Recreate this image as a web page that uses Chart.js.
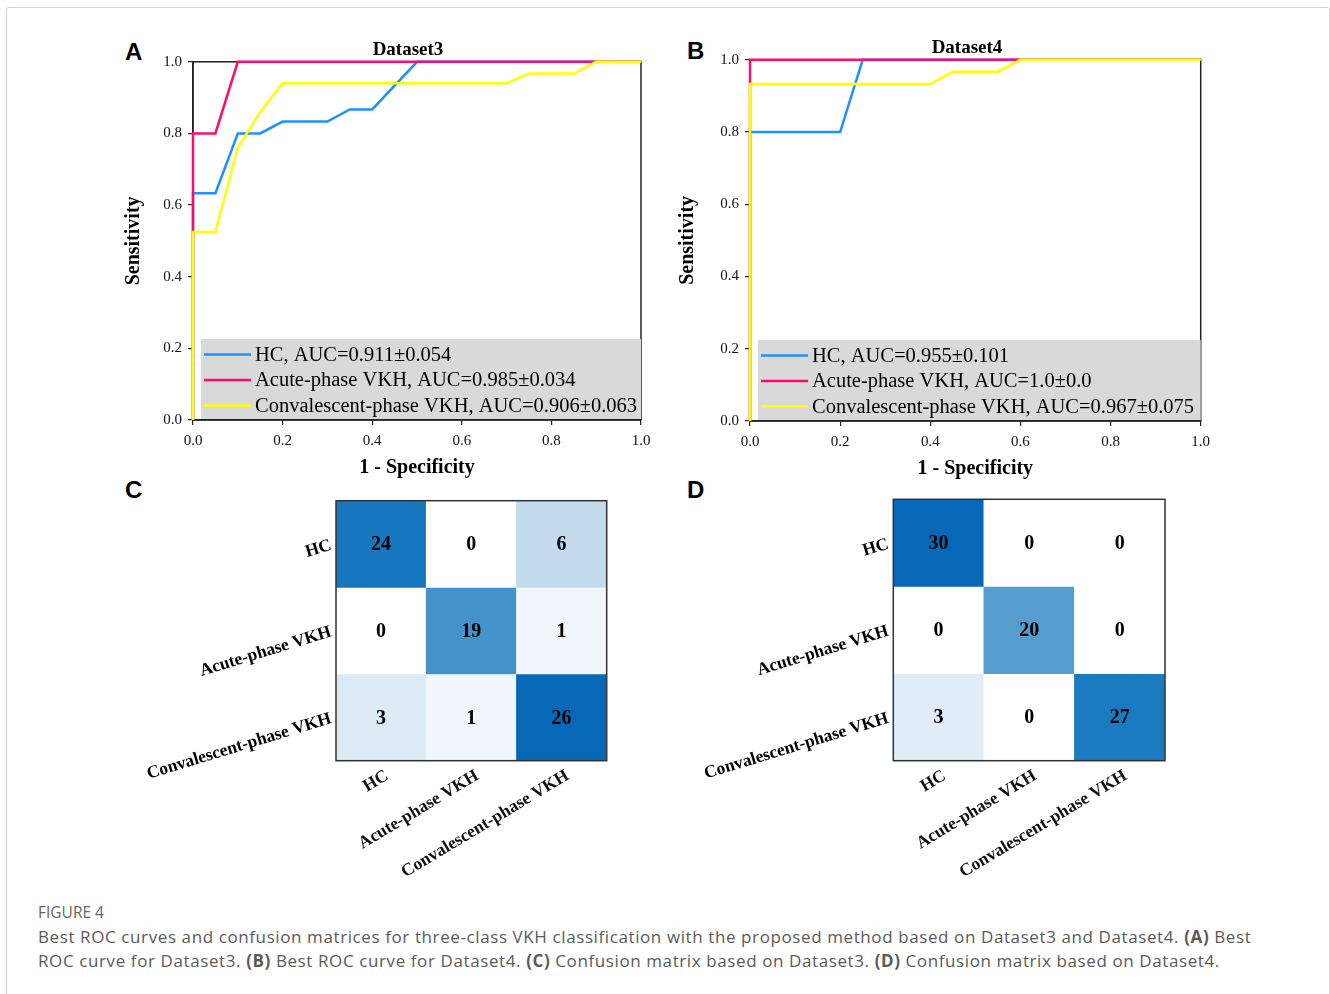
<!DOCTYPE html>
<html>
<head>
<meta charset="utf-8">
<title>Figure 4 - ROC curves and confusion matrices</title>
<script src="https://cdn.jsdelivr.net/npm/chart.js@4.4.1/dist/chart.umd.min.js"></script>
<style>
  html, body { margin: 0; padding: 0; background: #fff; }
  body { width: 1330px; height: 994px; position: relative; overflow: hidden; }
  .frame { position: absolute; left: 6px; top: 7px; width: 1322px; height: 1010px;
           border: 1px solid #d2d2d2; border-radius: 3px; }
  canvas { position: absolute; }
  .panel { position: absolute; font: bold 24px "Liberation Sans", Arial, sans-serif; color: #000; }
  .cap-title { position: absolute; left: 38px; top: 901px; font: 15.5px "Open Sans", sans-serif;
               color: #666; }
  .cap { position: absolute; left: 38px; top: 925px; font: 17px "Open Sans", sans-serif;
         color: #5a5a5a; line-height: 24px; white-space: nowrap; letter-spacing: 0.6px; }
</style>
</head>
<body>
<div class="frame"></div>

<div class="panel" style="left:125px; top:38px;">A</div>
<div class="panel" style="left:687px; top:37px;">B</div>
<div class="panel" style="left:125px; top:476px;">C</div>
<div class="panel" style="left:687px; top:476px;">D</div>

<canvas id="roc-a" width="580" height="450" style="left:118px; top:30px;"></canvas>
<canvas id="roc-b" width="590" height="453" style="left:672px; top:28px;"></canvas>
<canvas id="cm-c" width="490" height="390" style="left:130px; top:495px;"></canvas>
<canvas id="cm-d" width="490" height="390" style="left:688px; top:495px;"></canvas>

<div class="cap-title">FIGURE 4</div>
<div class="cap">Best ROC curves and confusion matrices for three-class VKH classification with the proposed method based on Dataset3 and Dataset4. <b>(A)</b> Best<br>ROC curve for Dataset3. <b>(B)</b> Best ROC curve for Dataset4. <b>(C)</b> Confusion matrix based on Dataset3. <b>(D)</b> Confusion matrix based on Dataset4.</div>

<script>
// ── Data ─────────────────────────────────────────────────────────────────────
const classNames = ['HC', 'Acute-phase VKH', 'Convalescent-phase VKH'];

// Dataset3 ROC (1 - specificity, sensitivity)
const fprA_HC    = [0, 0, 0.05, 0.10, 0.15, 0.20, 0.30, 0.35, 0.40, 0.50, 1];
const tprA_HC    = [0, 0.633, 0.633, 0.80, 0.80, 0.833, 0.833, 0.867, 0.867, 1, 1];
const fprA_Acute = [0, 0, 0.05, 0.10, 1];
const tprA_Acute = [0, 0.80, 0.80, 1, 1];
const fprA_Conv  = [0, 0, 0.05, 0.10, 0.15, 0.20, 0.70, 0.75, 0.85, 0.90, 1];
const tprA_Conv  = [0, 0.525, 0.525, 0.76, 0.86, 0.94, 0.94, 0.967, 0.967, 1, 1];
const aucA = ['0.911±0.054', '0.985±0.034', '0.906±0.063'];

// Dataset4 ROC
const fprB_HC    = [0, 0, 0.20, 0.25, 1];
const tprB_HC    = [0, 0.80, 0.80, 1, 1];
const fprB_Acute = [0, 0, 1];
const tprB_Acute = [0, 1, 1];
const fprB_Conv  = [0, 0, 0.40, 0.45, 0.55, 0.60, 1];
const tprB_Conv  = [0, 0.933, 0.933, 0.967, 0.967, 1, 1];
const aucB = ['0.955±0.101', '1.0±0.0', '0.967±0.075'];

const axisTicks = [0, 0.2, 0.4, 0.6, 0.8, 1.0];

// confusion matrices, rows = true class, cols = predicted class
const cmDataset3 = [
  [24, 0, 6],
  [0, 19, 1],
  [3, 1, 26],
];
const cmDataset4 = [
  [30, 0, 0],
  [0, 20, 0],
  [3, 0, 27],
];

// ── Styles ───────────────────────────────────────────────────────────────────
const classColors = ['#1e90ff', '#ff0a6e', '#ffff00'];
const SERIF = '"Liberation Serif", "Times New Roman", serif';

// Blues-like ramp, t = value / matrix max
const bluesRamp = [
  [0.00, [255, 255, 255]],
  [0.04, [239, 246, 251]],
  [0.11, [221, 235, 246]],
  [0.23, [194, 219, 237]],
  [0.50, [138, 189, 223]],
  [0.70, [74, 151, 204]],
  [0.90, [27, 123, 192]],
  [1.00, [8, 104, 184]],
];

function blues(t) {
  for (let i = 1; i < bluesRamp.length; i++) {
    const [t1, c1] = bluesRamp[i];
    const [t0, c0] = bluesRamp[i - 1];
    if (t <= t1) {
      const f = (t - t0) / (t1 - t0);
      const c = c0.map((v, k) => Math.round(v + (c1[k] - v) * f));
      return `rgb(${c[0]},${c[1]},${c[2]})`;
    }
  }
  return 'rgb(8,104,184)';
}

// ── ROC charts ───────────────────────────────────────────────────────────────
const rocFrame = {
  id: 'rocFrame',
  beforeDatasetsDraw(chart) {
    const { ctx, chartArea: a } = chart;
    ctx.save();
    ctx.strokeStyle = '#222';
    ctx.lineWidth = 1.5;
    ctx.strokeRect(a.left, a.top, a.right - a.left, a.bottom - a.top);
    ctx.restore();
  },
  afterDatasetsDraw(chart) {
    const { ctx, chartArea: a } = chart;
    const ds = chart.data.datasets;
    ctx.save();
    const boxLeft = a.left + 8, boxTop = a.bottom - 81;
    ctx.fillStyle = '#d9d9d9';
    ctx.fillRect(boxLeft, boxTop, a.right - boxLeft, a.bottom - 1 - boxTop);
    ctx.font = `20.5px ${SERIF}`;
    ctx.textBaseline = 'middle';
    ctx.fillStyle = '#000';
    ds.forEach((d, i) => {
      const y = boxTop + 15.5 + i * 25.5;
      ctx.strokeStyle = d.borderColor;
      ctx.lineWidth = 2.5;
      ctx.beginPath();
      ctx.moveTo(boxLeft + 3, y);
      ctx.lineTo(boxLeft + 50, y);
      ctx.stroke();
      ctx.fillText(d.label, boxLeft + 54, y + 1);
    });
    ctx.restore();
  },
};

function rocDataset(label, color, xs, ys, order) {
  return {
    label,
    data: xs.map((x, i) => ({ x, y: ys[i] })),
    borderColor: color,
    backgroundColor: color,
    borderWidth: 2.5,
    pointRadius: 0,
    showLine: true,
    tension: 0,
    clip: 4,
    order,
  };
}

function rocAxis(title, yAxis, fitSize) {
  return {
    type: 'linear',
    position: yAxis ? 'left' : 'bottom',
    min: 0,
    max: 1,
    afterBuildTicks: s => { s.ticks = axisTicks.map(v => ({ value: v })); },
    afterFit: s => { if (yAxis) s.width = fitSize; else s.height = fitSize; },
    ticks: {
      color: '#111',
      font: { family: SERIF, size: 15 },
      padding: yAxis ? 6 : 7,
      maxRotation: 0,
      callback: v => Number(v).toFixed(1),
    },
    grid: { drawOnChartArea: false, drawTicks: true, tickLength: 5, color: '#222', lineWidth: 1.2 },
    border: { display: true, color: '#222', width: 1.5 },
    title: {
      display: true,
      text: title,
      color: '#000',
      font: { family: SERIF, size: 20, weight: 'bold' },
      padding: { top: 4, bottom: 0 },
    },
  };
}

function makeRoc(id, title, curves, aucs, leftFit, rightFit) {
  const labels = [
    `HC, AUC=${aucs[0]}`,
    `Acute-phase VKH, AUC=${aucs[1]}`,
    `Convalescent-phase VKH, AUC=${aucs[2]}`,
  ];
  return new Chart(document.getElementById(id), {
    type: 'scatter',
    data: {
      datasets: curves.map((c, i) => rocDataset(labels[i], classColors[i], c[0], c[1], 3 - i)),
    },
    options: {
      responsive: false,
      animation: false,
      events: [],
      plugins: {
        legend: { display: false },
        tooltip: { enabled: false },
        title: {
          display: true,
          text: title,
          color: '#000',
          font: { family: SERIF, size: 19, weight: 'bold' },
          padding: { top: 9, bottom: 0 },
        },
      },
      scales: {
        x: rocAxis('1 - Specificity', false, 60),
        y: rocAxis('Sensitivity', true, leftFit),
        // empty right-hand spacer so the chart title centres on the whole canvas
        spacer: {
          type: 'linear',
          position: 'right',
          display: true,
          afterFit: s => { s.width = rightFit; },
          ticks: { display: false },
          grid: { display: false },
          border: { display: false },
        },
      },
    },
    plugins: [rocFrame],
  });
}

makeRoc('roc-a', 'Dataset3',
  [[fprA_HC, tprA_HC], [fprA_Acute, tprA_Acute], [fprA_Conv, tprA_Conv]], aucA, 75, 57);
makeRoc('roc-b', 'Dataset4',
  [[fprB_HC, tprB_HC], [fprB_Acute, tprB_Acute], [fprB_Conv, tprB_Conv]], aucB, 78, 61.3);

// ── Confusion matrices ───────────────────────────────────────────────────────
const cmPlugin = {
  id: 'cmPlugin',
  afterDatasetsDraw(chart, args, opts) {
    const { ctx, chartArea: a } = chart;
    const m = opts.matrix;
    ctx.save();
    // cell counts
    ctx.font = `bold 20px ${SERIF}`;
    ctx.fillStyle = '#000';
    ctx.textAlign = 'center';
    ctx.textBaseline = 'middle';
    chart.data.datasets.forEach((d, i) => {
      chart.getDatasetMeta(i).data.forEach((bar, j) => {
        ctx.fillText(String(m[i][j]), bar.x, (bar.y + bar.base) / 2 + 1);
      });
    });
    // frame
    ctx.strokeStyle = '#333';
    ctx.lineWidth = 1.5;
    ctx.strokeRect(a.left, a.top, a.right - a.left, a.bottom - a.top);
    // row labels (true class), tilted
    const ys = chart.scales.y;
    ctx.font = `bold 17.5px ${SERIF}`;
    ctx.textAlign = 'right';
    classNames.forEach((name, i) => {
      ctx.save();
      ctx.translate(a.left - 5, ys.getPixelForValue(i + 0.5) + 1);
      ctx.rotate(-17 * Math.PI / 180);
      ctx.fillText(name, 0, 0);
      ctx.restore();
    });
    ctx.restore();
  },
};

function makeMatrix(id, matrix, pad) {
  const vmax = Math.max(...matrix.flat());
  return new Chart(document.getElementById(id), {
    type: 'bar',
    data: {
      labels: classNames,
      datasets: matrix.map((row, i) => ({
        label: classNames[i],
        data: row.map(() => 1),
        backgroundColor: row.map(v => blues(v / vmax)),
        borderWidth: 0,
        barPercentage: 1,
        categoryPercentage: 1,
      })),
    },
    options: {
      responsive: false,
      animation: false,
      events: [],
      layout: { padding: pad },
      plugins: {
        legend: { display: false },
        tooltip: { enabled: false },
        cmPlugin: { matrix },
      },
      scales: {
        x: {
          stacked: true,
          afterFit: s => { s.height = 124.3; },
          grid: { display: false, drawTicks: false },
          border: { display: false },
          ticks: {
            color: '#111',
            font: { family: SERIF, size: 17.5, weight: 'bold' },
            minRotation: 31,
            maxRotation: 31,
            padding: 5,
            labelOffset: 6,
          },
        },
        y: {
          stacked: true,
          display: false,
          min: 0,
          max: 3,
          reverse: true,
        },
      },
    },
    plugins: [cmPlugin],
  });
}

makeMatrix('cm-c', cmDataset3, { left: 206, right: 13.3, top: 5.7, bottom: 0 });
makeMatrix('cm-d', cmDataset4, { left: 205.3, right: 13, top: 4.3, bottom: 0 });
</script>
</body>
</html>
